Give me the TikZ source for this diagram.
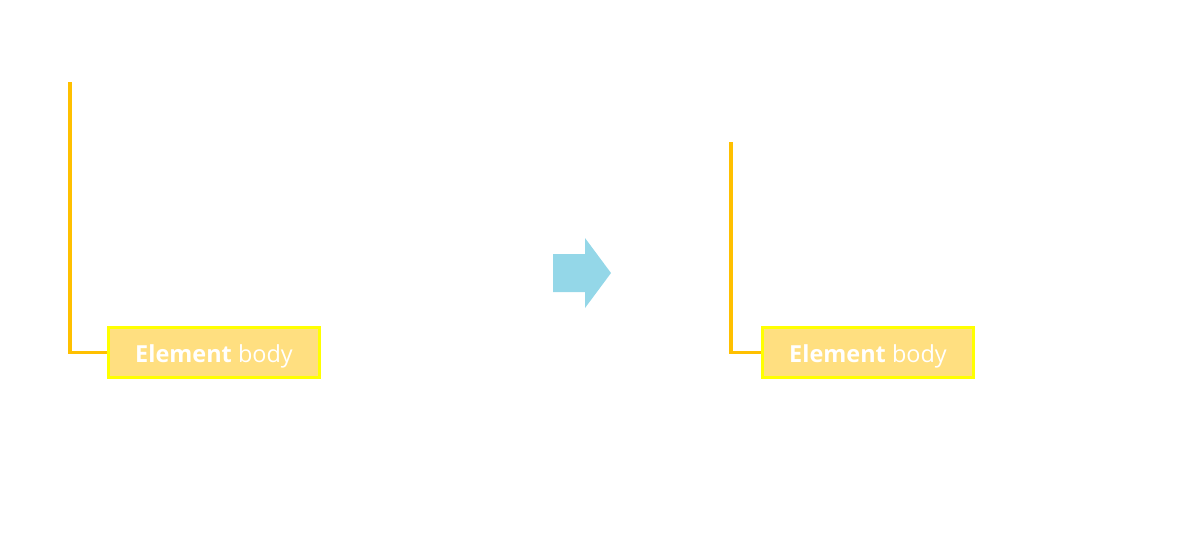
\documentclass[tikz,border=0pt]{standalone}
\usepackage{fontspec}
\setmainfont{Open Sans}
\definecolor{lineorange}{HTML}{FFC000}
\definecolor{boxfill}{HTML}{FFDF80}
\definecolor{boxedge}{HTML}{FFFF00}
\definecolor{arrowblue}{HTML}{94D7E8}
\newcommand{\bodylabel}{\raisebox{-7.6pt}[0pt][0pt]{\textbf{Element} body}}
\begin{document}
\begin{tikzpicture}[x=0.75pt,y=-0.75pt,
  bodybox/.style={draw=boxedge,fill=boxfill,line width=2.4pt,minimum width=211*0.75pt,minimum height=50*0.75pt,inner sep=0pt,text=white,font=\fontsize{17.6}{21}\selectfont},
  bracket/.style={draw=lineorange,line width=2.3pt}]
\useasboundingbox (0,0) rectangle (1196,537);
\node[bodybox] (b1) at (214,352.5) {\bodylabel};
\node[bodybox] (b2) at (868,352.5) {\bodylabel};
\coordinate (t1) at (70,82);
\coordinate (t2) at (731,142);
\draw[bracket] (t1) |- (b1.west);
\draw[bracket] (t2) |- (b2.west);
\fill[arrowblue] (553,254) -- (585,254) -- (585,238) -- (611,273) -- (585,308) -- (585,292) -- (553,292) -- cycle;
\end{tikzpicture}
\end{document}
